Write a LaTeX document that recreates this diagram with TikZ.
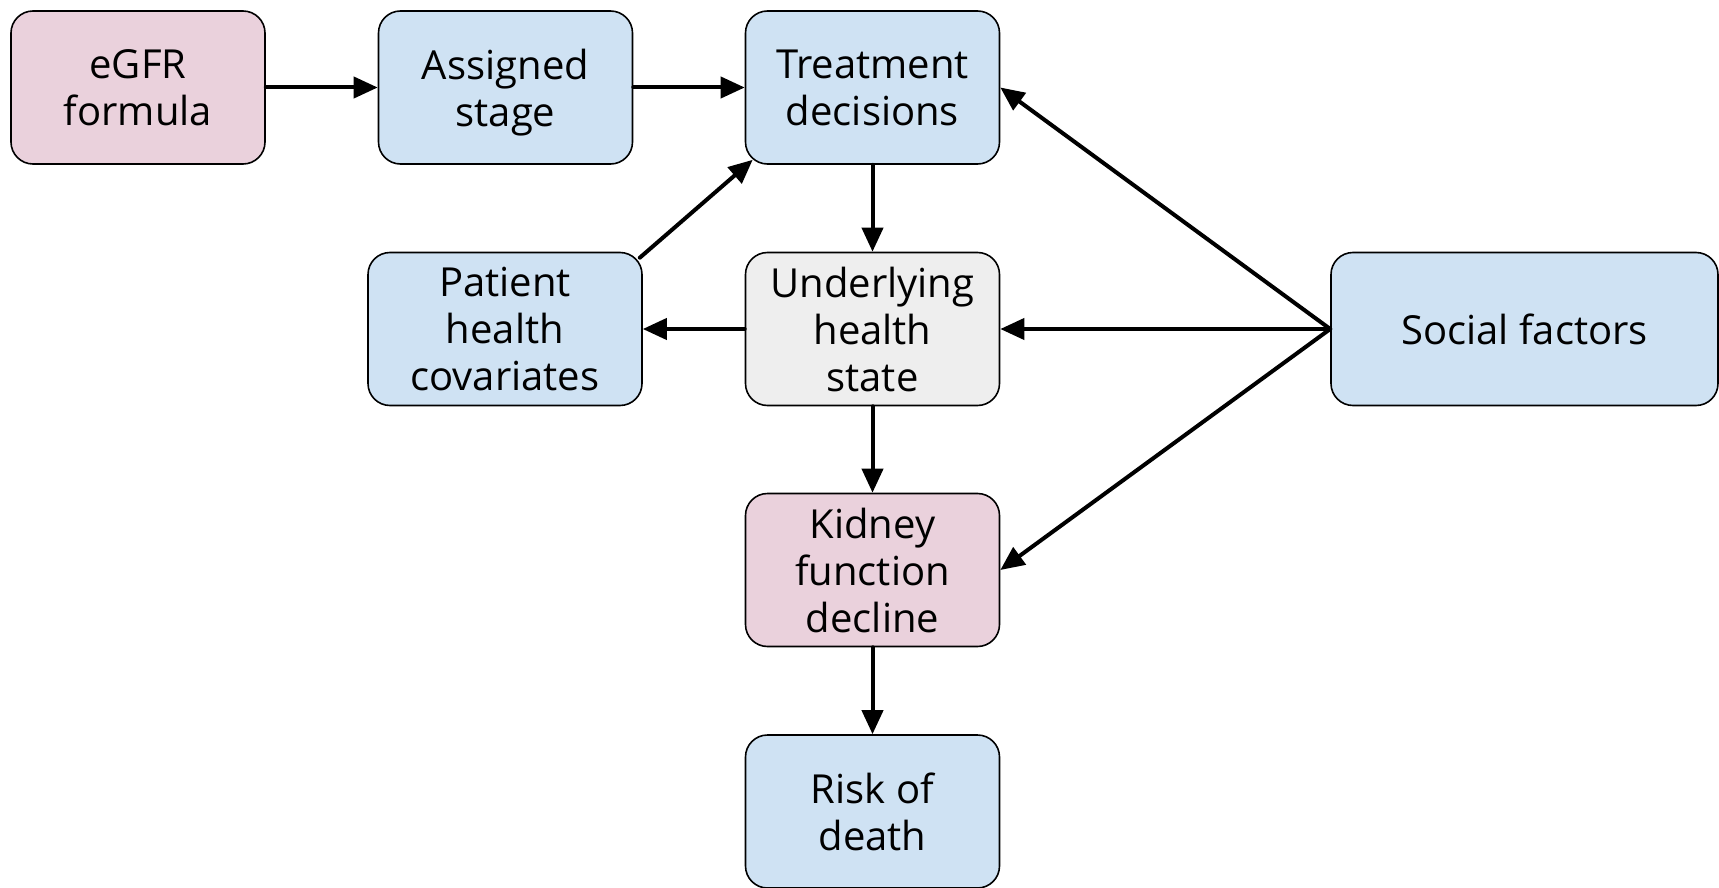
\documentclass[tikz,border=0pt]{standalone}
\usepackage{fontspec}
\setmainfont{Open Sans}
\usepackage{tikz}
\usetikzlibrary{arrows.meta}
\definecolor{pinkbox}{HTML}{EAD1DC}
\definecolor{bluebox}{HTML}{CFE2F3}
\definecolor{greybox}{HTML}{EEEEEE}

\begin{document}
\begin{tikzpicture}[line cap=round,line join=round,x=0.5pt,y=-0.5pt,
	box/.style={draw=black,line width=0.8pt,rounded corners=11pt,align=center,
		minimum width=127pt,minimum height=76.5pt,inner sep=0pt,text depth=0pt,
		font=\fontsize{20}{23.5}\selectfont},
	arr/.style={line width=2pt,-{Triangle[length=12pt,width=10.5pt]}}]
		\useasboundingbox (0,0) rectangle (1719,888);
		\node [box,fill=pinkbox] (egfr) at (138,87.5) {eGFR\\formula};
		\node [box,fill=bluebox] (stage) at (505.5,87.5) {Assigned\\stage};
		\node [box,fill=bluebox] (treat) at (872.5,87.5) {Treatment\\decisions};
		\node [box,fill=bluebox,minimum width=137pt] (patient) at (505,329) {Patient\\health\\covariates};
		\node [box,fill=greybox] (health) at (872.5,329) {Underlying\\health\\state};
		\node [box,fill=bluebox,minimum width=193.5pt] (social) at (1524.5,329) {Social factors};
		\node [box,fill=pinkbox] (kidney) at (872.5,570) {Kidney\\function\\decline};
		\node [box,fill=bluebox] (death) at (872.5,811.5) {Risk of\\death};
		\draw [arr] (egfr) -- (stage);
		\draw [arr] (stage) -- (treat);
		\draw [arr] (treat) -- (health);
		\draw [arr] (health) -- (patient);
		\draw [arr] ([xshift=-1.5pt,yshift=-3pt]patient.north east) -- ([xshift=4pt,yshift=2.5pt]treat.south west);
		\draw [arr] (social.west) -- (treat.east);
		\draw [arr] (social.west) -- (health.east);
		\draw [arr] (social.west) -- (kidney.east);
		\draw [arr] (health) -- (kidney);
		\draw [arr] (kidney) -- (death);
		\end{tikzpicture}
\end{document}
